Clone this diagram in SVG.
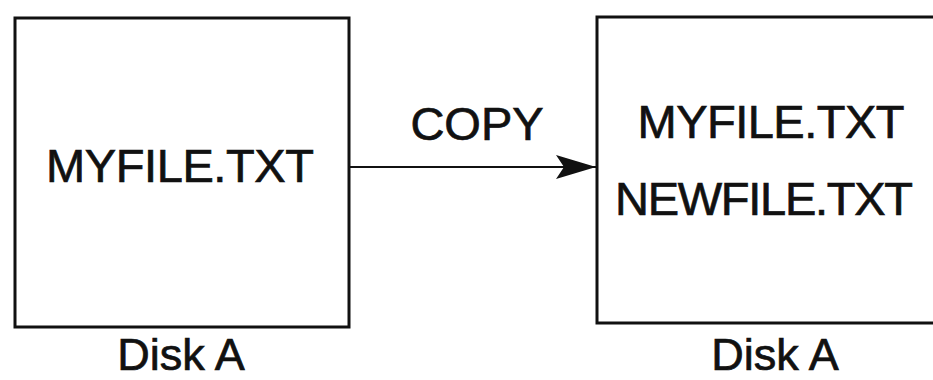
<svg xmlns="http://www.w3.org/2000/svg" width="933" height="380" viewBox="0 0 933 380">
<style>
.box{fill:none;stroke:#111;stroke-width:3}
.t{font-family:"Liberation Sans",Arial,sans-serif;font-size:47px;fill:#111;stroke:#111;stroke-width:0.7;text-anchor:middle}
.d{font-size:45px}
.c{stroke:#111;stroke-width:2;fill:none}
</style>
<defs>
<marker id="ah" markerWidth="40" markerHeight="24" refX="40" refY="12" markerUnits="userSpaceOnUse" orient="auto">
<path d="M0,0 L40,12 L0,24 L8,12 Z" fill="#111"/>
</marker>
</defs>
<rect width="933" height="380" fill="#fff"/>
<g id="diskA1">
<rect class="box" x="15" y="18" width="334" height="309"/>
<text class="t" x="180" y="182" textLength="268">MYFILE.TXT</text>
<text class="t d" x="181" y="370">Disk A</text>
</g>
<g id="diskA2">
<rect class="box" x="597" y="17" width="345" height="306"/>
<text class="t" x="771" y="138" textLength="267">MYFILE.TXT</text>
<text class="t" x="764" y="215" textLength="298">NEWFILE.TXT</text>
<text class="t d" x="775" y="370">Disk A</text>
</g>
<g id="connectors">
<line class="c" x1="350" y1="167" x2="596" y2="167" marker-end="url(#ah)"/>
<text class="t" x="477" y="140">COPY</text>
</g>
</svg>
